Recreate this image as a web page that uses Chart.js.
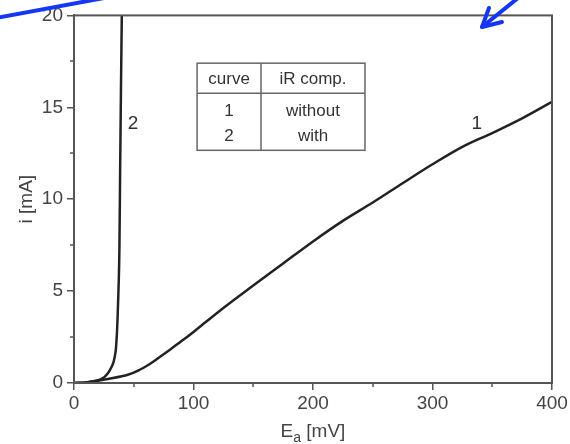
<!DOCTYPE html>
<html><head><meta charset="utf-8">
<script src="https://cdn.jsdelivr.net/npm/chart.js@4/dist/chart.umd.min.js"></script>
<style>html,body{margin:0;padding:0;background:#fff}#wrap{width:570px;height:444px}</style>
</head><body><div id="wrap"><canvas id="c" width="570" height="444"></canvas></div>
<script>
// ---- data ----
const curve1E = [0, 10, 20, 30, 40, 45, 50, 55, 60, 65, 70, 80, 90, 100, 110, 125, 150, 175, 200, 225, 250, 275, 300, 325, 350, 375, 400];
const curve1I = [0, 0.03, 0.12, 0.24, 0.37, 0.45, 0.56, 0.72, 0.9, 1.1, 1.33, 1.8, 2.28, 2.78, 3.3, 4.08, 5.3, 6.5, 7.7, 8.82, 9.82, 10.87, 11.9, 12.85, 13.6, 14.4, 15.3];
const curve2E = [0, 10, 15, 20, 25, 28, 30, 32, 33, 34, 35, 35.5, 36, 36.5, 37, 38, 38.6, 39.3, 40];
const curve2I = [0, 0.03, 0.08, 0.15, 0.3, 0.5, 0.7, 0.95, 1.12, 1.4, 1.82, 2.25, 2.8, 3.6, 4.6, 7.3, 11.5, 16, 20];
const xTickValues = [0, 100, 200, 300, 400];
const yTickValues = [0, 5, 10, 15, 20];
const xMinorTicks = [50, 150, 250, 350];
const yMinorTicks = [2.5, 7.5, 12.5, 17.5];
const tableHeader = ["curve", "iR comp."];
const tableRows = [["1", "without"], ["2", "with"]];
const curveNames = ["1", "2"];
const curveLabelE = [337, 49.4];
const curveLabelI = [14.1, 14.1];
const xTitleMain = "E", xTitleSub = "a", xTitleUnit = " [mV]";
const yTitle = "i [mA]";

const FONT = '"Liberation Sans", Arial, Helvetica, sans-serif';
const AXIS = '#555';
const TEXT = '#444';

const overlay = {
  id: 'overlay',
  afterDraw(chart) {
    const {ctx, chartArea: a, scales: {x, y}} = chart;
    ctx.save();
    // frame
    ctx.strokeStyle = AXIS; ctx.lineWidth = 2;
    ctx.strokeRect(a.left, a.top, a.right - a.left, a.bottom - a.top);
    // minor ticks
    ctx.lineWidth = 1.5;
    ctx.beginPath();
    xMinorTicks.forEach(v => { const px = Math.round(x.getPixelForValue(v)); ctx.moveTo(px, a.bottom); ctx.lineTo(px, a.bottom + 4); });
    yMinorTicks.forEach(v => { const py = Math.round(y.getPixelForValue(v)); ctx.moveTo(a.left - 4, py); ctx.lineTo(a.left, py); });
    ctx.stroke();

    // table
    const bx0 = x.getPixelForValue(103), bx1 = x.getPixelForValue(243.5);
    const by0 = y.getPixelForValue(17.4), by1 = y.getPixelForValue(12.66);
    const cx = x.getPixelForValue(156.5), hy = y.getPixelForValue(15.76);
    ctx.strokeStyle = '#666'; ctx.lineWidth = 1.5;
    ctx.strokeRect(bx0, by0, bx1 - bx0, by1 - by0);
    ctx.beginPath();
    ctx.moveTo(cx, by0); ctx.lineTo(cx, by1);
    ctx.moveTo(bx0, hy); ctx.lineTo(bx1, hy);
    ctx.stroke();
    ctx.fillStyle = '#333';
    ctx.font = '17px ' + FONT;
    ctx.textAlign = 'center'; ctx.textBaseline = 'middle';
    const c1 = (bx0 + cx) / 2, c2 = (cx + bx1) / 2;
    ctx.fillText(tableHeader[0], c1, (by0 + hy) / 2 + 1);
    ctx.fillText(tableHeader[1], c2, (by0 + hy) / 2 + 1);
    const rowH = (by1 - hy);
    tableRows.forEach((r, i) => {
      const ry = hy + rowH * (0.32 + 0.44 * i);
      ctx.fillText(r[0], c1, ry);
      ctx.fillText(r[1], c2, ry);
    });

    // curve labels
    ctx.fillStyle = '#333';
    ctx.font = '19px ' + FONT;
    curveNames.forEach((n, i) => {
      ctx.fillText(n, x.getPixelForValue(curveLabelE[i]), y.getPixelForValue(curveLabelI[i]));
    });

    // axis titles
    ctx.fillStyle = TEXT;
    ctx.textBaseline = 'alphabetic';
    ctx.textAlign = 'left';
    ctx.font = '19px ' + FONT;
    const wE = ctx.measureText(xTitleMain).width;
    const wU = ctx.measureText(xTitleUnit).width;
    ctx.font = '14px ' + FONT;
    const wS = ctx.measureText(xTitleSub).width;
    const total = wE + wS + wU;
    const mid = (a.left + a.right) / 2;
    let tx = mid - total / 2;
    const base = 437;
    ctx.font = '19px ' + FONT; ctx.fillText(xTitleMain, tx, base); tx += wE;
    ctx.font = '14px ' + FONT; ctx.fillText(xTitleSub, tx, base + 5); tx += wS;
    ctx.font = '19px ' + FONT; ctx.fillText(xTitleUnit, tx, base);

    ctx.save();
    ctx.translate(27, (a.top + a.bottom) / 2);
    ctx.rotate(-Math.PI / 2);
    ctx.textAlign = 'center'; ctx.textBaseline = 'middle';
    ctx.font = '19px ' + FONT;
    ctx.fillText(yTitle, 0, 0);
    ctx.restore();

    // blue hand-drawn annotations on the reference image
    ctx.strokeStyle = '#1436f5'; ctx.lineWidth = 4; ctx.lineCap = 'round'; ctx.lineJoin = 'round';
    ctx.beginPath(); ctx.moveTo(-4, 18); ctx.lineTo(104, -2); ctx.stroke();
    ctx.beginPath(); ctx.moveTo(518, -2); ctx.lineTo(482, 27); ctx.stroke();
    ctx.beginPath(); ctx.moveTo(489, 8); ctx.lineTo(482, 27); ctx.lineTo(502, 22); ctx.stroke();
    ctx.restore();
  }
};

const toPts = (xs, ys) => xs.map((v, i) => ({x: v, y: ys[i]}));

new Chart(document.getElementById('c'), {
  type: 'line',
  data: {
    datasets: [
      {data: toPts(curve1E, curve1I), borderColor: '#222', borderWidth: 2.5, pointRadius: 0, cubicInterpolationMode: 'monotone', fill: false},
      {data: toPts(curve2E, curve2I), borderColor: '#222', borderWidth: 2.5, pointRadius: 0, cubicInterpolationMode: 'monotone', fill: false}
    ]
  },
  options: {
    responsive: false,
    animation: false,
    layout: {padding: {top: 15, right: 18, left: 0, bottom: 0}},
    plugins: {legend: {display: false}, tooltip: {enabled: false}},
    scales: {
      x: {
        type: 'linear', min: 0, max: 400,
        afterBuildTicks: s => { s.ticks = xTickValues.map(v => ({value: v})); },
        afterFit: s => { s.height = 61; },
        grid: {drawOnChartArea: false, drawTicks: true, tickLength: 7, color: AXIS, lineWidth: 1.5},
        border: {display: true, color: AXIS, width: 2},
        ticks: {color: TEXT, font: {family: FONT, size: 19}, padding: 2, maxRotation: 0}
      },
      y: {
        type: 'linear', min: 0, max: 20,
        afterBuildTicks: s => { s.ticks = yTickValues.map(v => ({value: v})); },
        afterFit: s => { s.width = 74; },
        grid: {drawOnChartArea: false, drawTicks: true, tickLength: 7, color: AXIS, lineWidth: 1.5},
        border: {display: true, color: AXIS, width: 2},
        ticks: {color: TEXT, font: {family: FONT, size: 19}, padding: 4}
      }
    }
  },
  plugins: [overlay]
});
</script>
</body></html>
